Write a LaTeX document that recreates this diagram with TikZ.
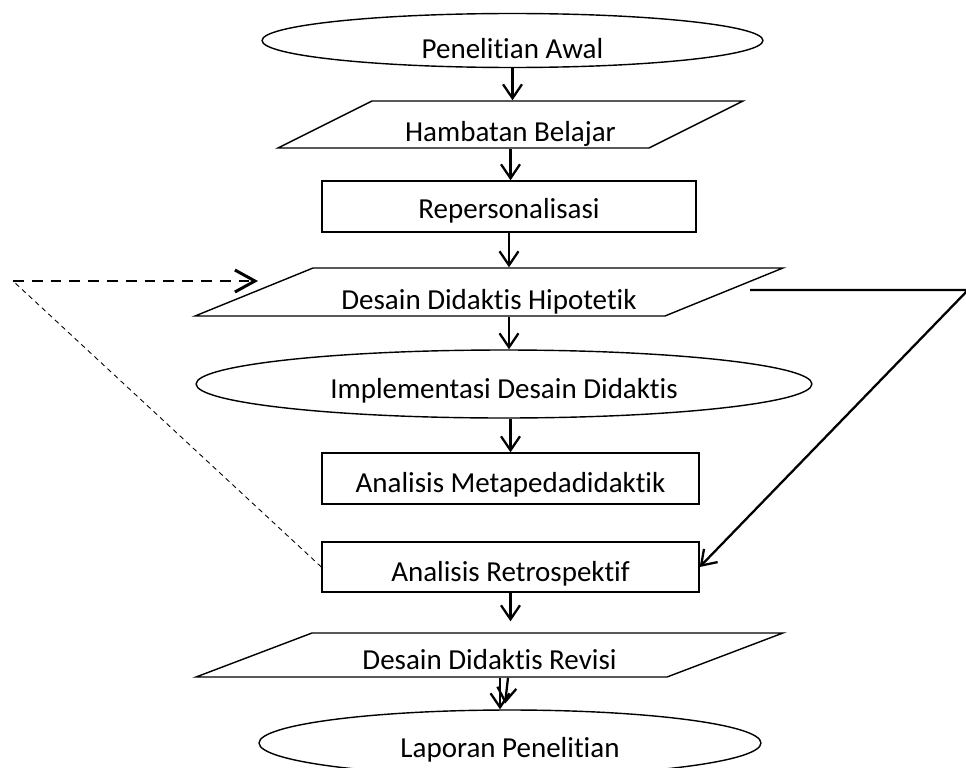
\documentclass[tikz,border=0pt]{standalone}
\usepackage{fontspec}
\setmainfont{Carlito}[Ligatures=NoCommon]
\usetikzlibrary{shapes.geometric, arrows.meta}

\begin{document}
\begin{tikzpicture}[x=0.02cm, y=-0.02cm]

\tikzset{every node/.style = {font=\fontsize{16.5}{20}\selectfont, inner sep=0pt, text height=16pt, text depth=0pt}}
\tikzset{terminal/.style = {shape=ellipse, draw, line width=0.8pt}}
\tikzset{io/.style = {shape=trapezium, draw, line width=0.8pt, trapezium stretches body}}
\tikzset{process/.style = {shape=rectangle, draw, line width=0.8pt}}
\tikzset{flow/.style = {-{Straight Barb[length=0.28cm, width=0.38cm]}, line width=1.3pt}}
\useasboundingbox (0,0) rectangle (966,767);
% steps
\node[terminal, minimum width=10.02cm, minimum height=1.08cm, text height=21pt] (1) at (512.5,40.5) {Penelitian Awal};
\node[io, trapezium left angle=19.56, trapezium right angle=160.44, minimum width=9.3cm, minimum height=0.94cm, text height=19pt] (2) at (510.5,124.5) {Hambatan Belajar};
\node[process, minimum width=7.48cm, minimum height=1.02cm, text height=14pt] (3) at (509,206.5) {Repersonalisasi};
\node[io, trapezium left angle=16.35, trapezium right angle=163.65, minimum width=11.76cm, minimum height=0.96cm, text height=19.7pt] (4) at (489,292) {Desain Didaktis Hipotetik};
\node[terminal, minimum width=12.32cm, minimum height=1.36cm] (5) at (504,384) {Implementasi Desain Didaktis};
\node[process, minimum width=7.54cm, minimum height=1.02cm] (6) at (510.5,478.5) {Analisis Metapedadidaktik};
\node[process, minimum width=7.54cm, minimum height=1.0cm] (7) at (510.5,567) {Analisis Retrospektif};
\node[io, trapezium left angle=13.63, trapezium right angle=166.37, minimum width=11.74cm, minimum height=0.88cm] (8) at (489.5,655) {Desain Didaktis Revisi};
\node[terminal, minimum width=10.04cm, minimum height=1.32cm] (9) at (510,743) {Laporan Penelitian};
\coordinate (c1) at (13,281);
\coordinate (c2) at (258,281);
\coordinate (c3) at (750,290);
\coordinate (c4) at (968,290);
%edges
\draw[flow] (1.south) -- (1.south |- 2.north);
\draw[flow] (2.south) -- (2.south |- 3.north);
\draw[flow] (3.south) -- (3.south |- 4.north);
\draw[flow] (3.south |- 4.south) -- (3.south |- 5.north);
\draw[flow] (6.north |- 5.south) -- (6.north);
\draw[flow, shorten >=0.22cm] (7.south) -- (7.south |- 8.north);
\draw[flow] ([xshift=0.21cm]8.south) -- ([xshift=0.21cm]8.south |- 9.north);
\draw[flow] ([xshift=0.37cm]8.south) -- ++(-3,26);
\draw[flow] (c3) -- (c4) -- (7.east);
\draw[line width=0.5pt, dash pattern=on 2.8pt off 2.3pt] (7.west) -- (c1);
\draw[line width=1.7pt, dash pattern=on 6.2pt off 4.5pt, -{Straight Barb[length=0.4cm, width=0.44cm]}] (c1) -- (c2);
\end{tikzpicture}
\end{document}
